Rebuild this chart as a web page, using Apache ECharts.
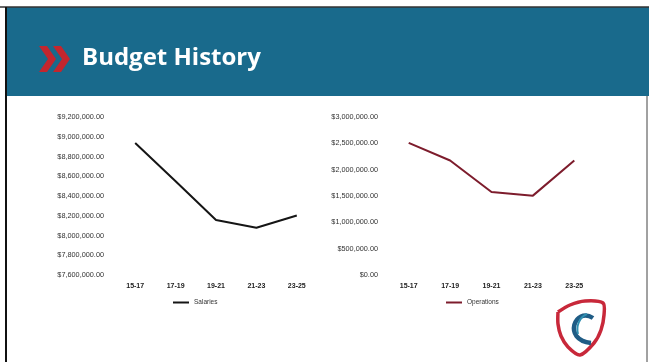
<!DOCTYPE html>
<html>
<head>
<meta charset="utf-8">
<script src="https://cdn.jsdelivr.net/npm/echarts@6/dist/echarts.min.js"></script>
<style>
html,body{margin:0;padding:0;background:#fff;}
#c{width:649px;height:362px;}
</style>
</head>
<body>
<div id="c"></div>
<script>
var categories = ['15-17', '17-19', '19-21', '21-23', '23-25'];
var salaries = [8936000, 8550000, 8156000, 8078000, 8203000];
var operations = [2510000, 2174000, 1575000, 1507000, 2174000];
var titleText = 'Budget History';

function money(v) {
  var s = Number(v).toFixed(2);
  var parts = s.split('.');
  parts[0] = parts[0].replace(/\B(?=(\d{3})+(?!\d))/g, ',');
  return '$' + parts[0] + '.' + parts[1];
}

var chart = echarts.init(document.getElementById('c'), null, {renderer: 'canvas'});
var axisLabelStyle = {color: '#333', fontSize: 7.3, fontFamily: 'Liberation Sans'};
var catLabelStyle = {color: '#222', fontSize: 7, fontWeight: 'bold', fontFamily: 'Liberation Sans', margin: 8};

chart.setOption({
  animation: false,
  backgroundColor: '#fff',
  graphic: [
    {type: 'rect', shape: {x: 6, y: 7, width: 643, height: 89}, style: {fill: '#196a8c'}, z: 1},
    {type: 'line', shape: {x1: 0, y1: 7, x2: 649, y2: 7}, style: {stroke: '#333', lineWidth: 1.5}, z: 2},
    {type: 'line', shape: {x1: 6, y1: 7, x2: 6, y2: 362}, style: {stroke: '#111', lineWidth: 2}, z: 2},
    {type: 'line', shape: {x1: 647, y1: 96, x2: 647, y2: 362}, style: {stroke: '#444', lineWidth: 1}, z: 2},
    {type: 'polygon', shape: {points: [[39, 46], [47, 46], [56, 59], [47, 72], [39, 72], [48, 59]]}, style: {fill: '#c3262e'}, z: 3},
    {type: 'polygon', shape: {points: [[53, 46], [61, 46], [70, 59], [61, 72], [53, 72], [62, 59]]}, style: {fill: '#c3262e'}, z: 3},
    {type: 'text', x: 82, y: 46, style: {text: titleText, fill: '#fff', fontSize: 24, fontWeight: 'bold', fontFamily: 'Open Sans'}, z: 3},
    // logo shield
    {type: 'polyline', shape: {points: [[558, 312], [570, 305], [585, 301], [603, 303], [604, 315], [601, 330], [594, 343], [580, 355], [568, 347], [561, 336], [558, 324], [558, 312]], smooth: 0.3}, style: {fill: 'none', stroke: '#c8283a', lineWidth: 3.5}, z: 3},
    {type: 'bezierCurve', shape: {x1: 593, y1: 318, cpx1: 575, cpy1: 306, cpx2: 562, cpy2: 340, x2: 591, y2: 343}, style: {fill: 'none', stroke: '#1f5c85', lineWidth: 4.5}, z: 3},
    {type: 'bezierCurve', shape: {x1: 587, y1: 314, cpx1: 579, cpy1: 317, cpx2: 576, cpy2: 327, x2: 578, y2: 334}, style: {fill: 'none', stroke: '#2f8fb0', lineWidth: 2}, z: 3}
  ],
  legend: [
    {data: [{name: 'Salaries', icon: 'rect'}], left: 168, top: 294, itemWidth: 16, itemHeight: 2, itemGap: 2, textStyle: {fontSize: 6.5, color: '#333', fontFamily: 'Liberation Sans'}},
    {data: [{name: 'Operations', icon: 'rect'}], left: 441, top: 294, itemWidth: 16, itemHeight: 2, itemGap: 2, textStyle: {fontSize: 6.5, color: '#333', fontFamily: 'Liberation Sans'}}
  ],
  grid: [
    {left: 115, top: 117, width: 202, height: 158, containLabel: false},
    {left: 388, top: 117, width: 207, height: 158, containLabel: false}
  ],
  xAxis: [
    {type: 'category', gridIndex: 0, data: categories, boundaryGap: true, axisLine: {show: false}, axisTick: {show: false}, axisLabel: catLabelStyle},
    {type: 'category', gridIndex: 1, data: categories, boundaryGap: true, axisLine: {show: false}, axisTick: {show: false}, axisLabel: catLabelStyle}
  ],
  yAxis: [
    {type: 'value', gridIndex: 0, min: 7600000, max: 9200000, interval: 200000, splitLine: {show: false}, axisLine: {show: false}, axisTick: {show: false},
     axisLabel: Object.assign({formatter: money, margin: 11}, axisLabelStyle)},
    {type: 'value', gridIndex: 1, min: 0, max: 3000000, interval: 500000, splitLine: {show: false}, axisLine: {show: false}, axisTick: {show: false},
     axisLabel: Object.assign({formatter: money, margin: 10}, axisLabelStyle)}
  ],
  series: [
    {name: 'Salaries', type: 'line', xAxisIndex: 0, yAxisIndex: 0, data: salaries, symbol: 'none', lineStyle: {color: '#151515', width: 2}, itemStyle: {color: '#151515'}},
    {name: 'Operations', type: 'line', xAxisIndex: 1, yAxisIndex: 1, data: operations, symbol: 'none', lineStyle: {color: '#7d1c2c', width: 2}, itemStyle: {color: '#7d1c2c'}}
  ]
});
</script>
</body>
</html>
